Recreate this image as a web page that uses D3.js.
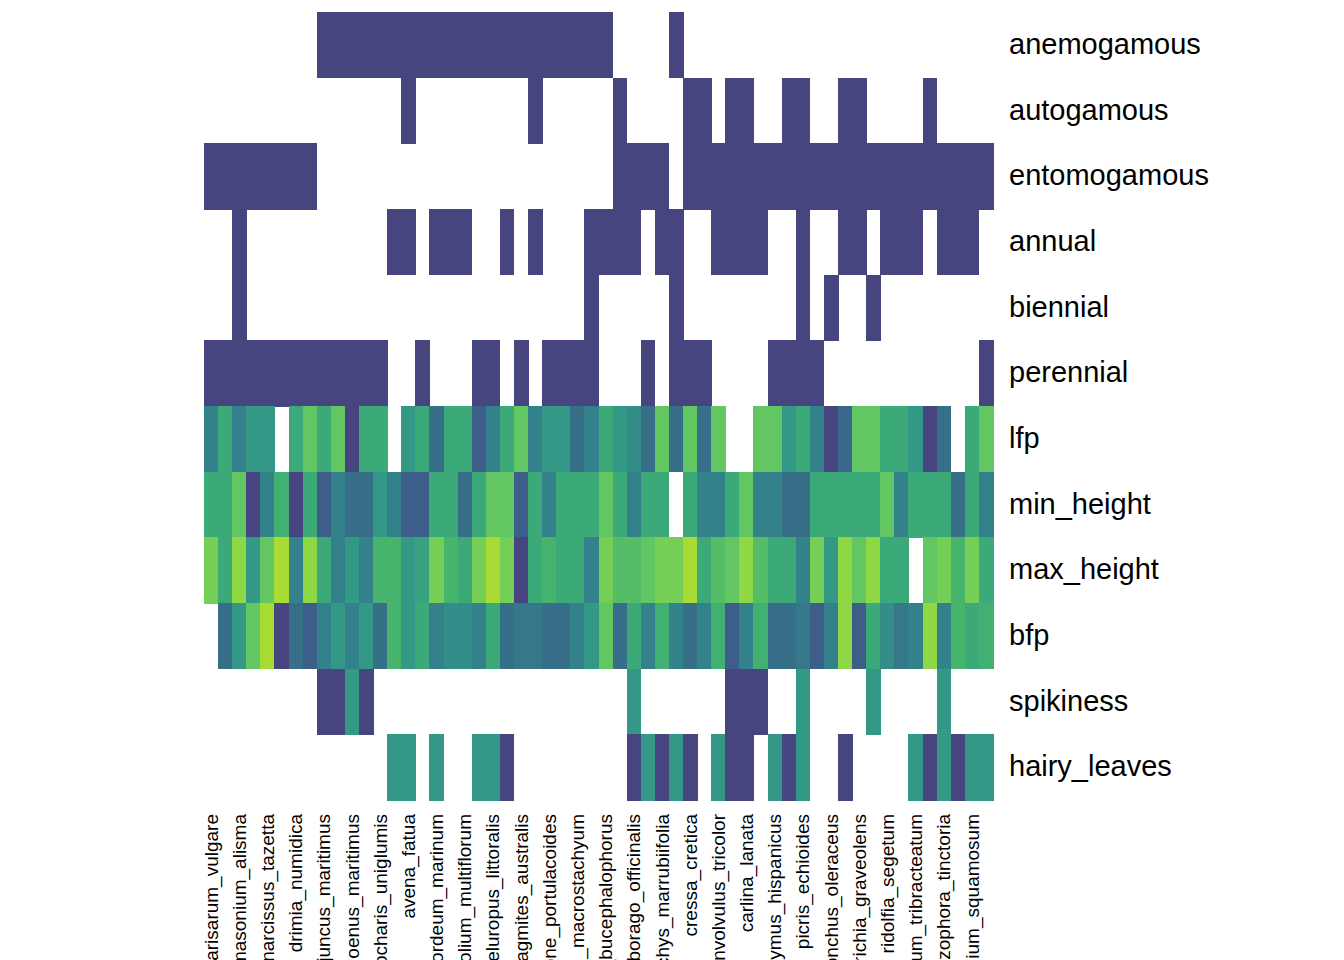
<!DOCTYPE html>
<html>
<head>
<meta charset="utf-8">
<script src="https://cdn.jsdelivr.net/npm/d3@7"></script>
<style>
  body { margin: 0; background: #fff; overflow: hidden; }
  text { font-family: "Liberation Sans", Arial, sans-serif; }
</style>
</head>
<body>
<svg id="chart"></svg>
<script>
const width = 1344;
const height = 960;

// species (columns), only every other one gets a label
const species = [
  "arisarum_vulgare", "allium_roseum", "damasonium_alisma", "asphodelus_fistulosus",
  "narcissus_tazetta", "pancratium_maritimum", "drimia_numidica", "urginea_maritima",
  "juncus_maritimus", "juncus_acutus", "bolboschoenus_maritimus", "scirpoides_holoschoenus",
  "eleocharis_uniglumis", "cynodon_dactylon", "avena_fatua", "briza_maxima",
  "hordeum_marinum", "lagurus_ovatus", "lolium_multiflorum", "polypogon_monspeliensis",
  "aeluropus_littoralis", "bromus_madritensis", "phragmites_australis", "beta_maritima",
  "halimione_portulacoides", "salicornia_europaea", "arthrocnemum_macrostachyum", "atriplex_prostrata",
  "rumex_bucephalophorus", "echium_plantagineum", "borago_officinalis", "anchusa_azurea",
  "stachys_marrubiifolia", "mentha_pulegium", "cressa_cretica", "convolvulus_arvensis",
  "convolvulus_tricolor", "carduus_pycnocephalus", "carlina_lanata", "galactites_tomentosa",
  "scolymus_hispanicus", "silybum_marianum", "picris_echioides", "reichardia_picroides",
  "sonchus_oleraceus", "calendula_arvensis", "dittrichia_graveolens", "foeniculum_vulgare",
  "ridolfia_segetum", "daucus_carota", "trifolium_tribracteatum", "medicago_polymorpha",
  "chrozophora_tinctoria", "mercurialis_annua", "trifolium_squamosum", "lotus_cytisoides"
];

const traits = ["anemogamous", "autogamous", "entomogamous", "annual", "biennial", "perennial",
  "lfp", "min_height", "max_height", "bfp", "spikiness", "hairy_leaves"];

// binary traits: columns where the trait is present
const anemogamousOn = d3.range(8, 29).concat([33]);
const autogamousOn = [14, 23, 29, 34, 35, 37, 38, 41, 42, 45, 46, 51];
const entomogamousOn = d3.range(0, 8).concat([29, 30, 31, 32], d3.range(34, 56));
const annualOn = [2, 13, 14, 16, 17, 18, 21, 23, 27, 28, 29, 30, 32, 33, 36, 37, 38, 39, 42, 45, 46, 48, 49, 50, 52, 53, 54];
const biennialOn = [2, 27, 33, 42, 44, 47];
const perennialOn = d3.range(0, 13).concat([15, 19, 20, 22, 24, 25, 26, 27, 31, 33, 34, 35, 40, 41, 42, 43, 55]);

// continuous traits (colour level, null = missing)
const lfp = [4,6,4,5,5,null,6,8,6,8,1,6,6,null,5,6,3,6,6,2,4,6,8,4,5,5,3,4,
  6,5,4.5,3,8,3,8,3,8,null,null,8,8,5,6,4,1,2.5,8,8,6,6,5,1,3,null,6,8];
const minHeight = [6,6,8,1,4,6.5,1,6,2,4,3,3,5,4,2,2,6,6,3,6,8,8,2,6,4,6,6,6,
  8,6,4,6,6,null,6,4,4,6,8,4,4,3,3,6,6,6,6,6,8,4,6,6,6,3,6,4];
const maxHeight = [9,6,10,5,8,11,4,10,6,4,5,4,7,7,5,5.5,9,7,6,9,11,9,1,6,7,6,6,4,
  9,7.5,7.5,8,9,9,11,6,7.5,8,10,7.5,6,6,4,9,5,10,8,10,6,6,null,8,9,7,9,6];
const bfp = [null,3,5,8,11,1,3,2,4,5,4,5,3,7,5,6,4,4.5,4.5,4,6,3,3.5,3.5,3,3,4,5,
  8,3,6,4,6.5,4,3,4,6.5,2,4,6.5,3,3,3.5,2,4,10,2,6,4.5,3.5,4,10,4,7,6,6.5];
const spikinessLow = [8, 9, 11, 37, 38, 39];
const spikinessHigh = [10, 30, 42, 47, 52];
const hairyLow = [21, 30, 32, 34, 37, 38, 41, 45, 51, 53];
const hairyHigh = [13, 14, 16, 19, 20, 31, 33, 36, 40, 42, 50, 52, 54, 55];

function fromIndex(list, level, base) {
  const out = base || species.map(() => null);
  list.forEach(i => out[i] = level);
  return out;
}

const rows = {
  anemogamous: fromIndex(anemogamousOn, 1),
  autogamous: fromIndex(autogamousOn, 1),
  entomogamous: fromIndex(entomogamousOn, 1),
  annual: fromIndex(annualOn, 1),
  biennial: fromIndex(biennialOn, 1),
  perennial: fromIndex(perennialOn, 1),
  lfp: lfp,
  min_height: minHeight,
  max_height: maxHeight,
  bfp: bfp,
  spikiness: fromIndex(spikinessHigh, 5, fromIndex(spikinessLow, 1)),
  hairy_leaves: fromIndex(hairyHigh, 5, fromIndex(hairyLow, 1))
};

const cells = [];
traits.forEach(t => rows[t].forEach((v, i) => {
  if (v != null) cells.push({trait: t, sp: species[i], v: v});
}));

const color = d3.scaleLinear()
  .domain(d3.range(1, 12))
  .range(["#47457f", "#3d5e88", "#376f89", "#33818a", "#339885", "#3caa78",
          "#47b46e", "#62c662", "#75cf56", "#8fd744", "#a8db34"]);

const svg = d3.select("#chart").attr("width", width).attr("height", height);

const x = d3.scaleBand().domain(species).range([204, 993]);
const y = d3.scaleBand().domain(traits).range([12, 800]);

svg.append("g").attr("shape-rendering", "crispEdges")
  .selectAll("rect").data(cells).join("rect")
  .attr("x", d => x(d.sp))
  .attr("y", d => y(d.trait))
  .attr("width", x.bandwidth() + 0.5)
  .attr("height", y.bandwidth() + 0.5)
  .attr("fill", d => color(d.v));

const yAxis = svg.append("g").attr("transform", "translate(1000,0)")
  .call(d3.axisRight(y).tickSize(0).tickPadding(9));
yAxis.select(".domain").remove();
yAxis.selectAll("text").attr("font-size", 29).attr("fill", "#000")
  .style("font-family", "'Liberation Sans', Arial, sans-serif");

const xAxis = svg.append("g").attr("transform", "translate(0,806)")
  .call(d3.axisBottom(x).tickValues(species.filter((d, i) => i % 2 === 0)).tickSize(0).tickPadding(0));
xAxis.select(".domain").remove();
xAxis.selectAll("text")
  .attr("font-size", 19).attr("fill", "#000")
  .style("font-family", "'Liberation Sans', Arial, sans-serif")
  .attr("transform", "rotate(-90)")
  .attr("text-anchor", "end")
  .attr("dy", "0.35em")
  .attr("x", -8)
  .attr("y", 0);
</script>
</body>
</html>
